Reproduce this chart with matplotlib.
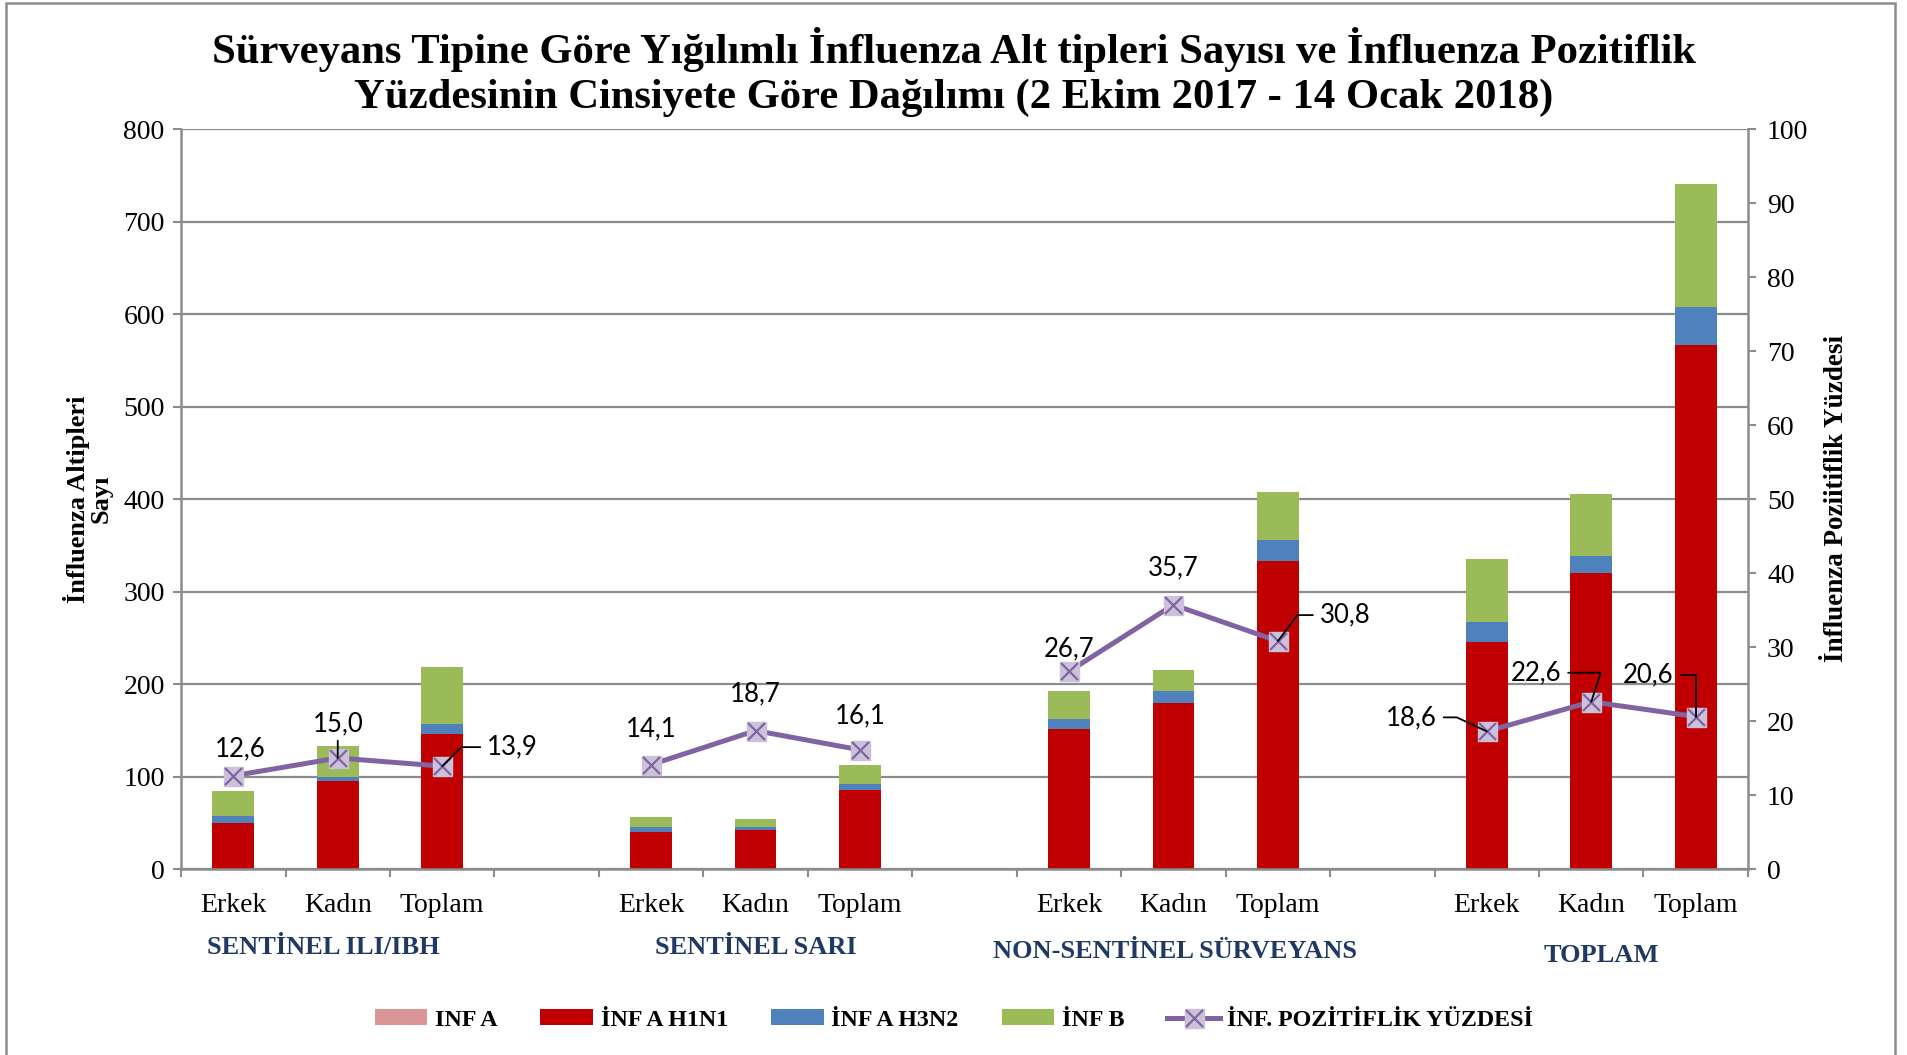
import matplotlib
matplotlib.use("Agg")
import matplotlib.pyplot as plt
import numpy as np
from matplotlib.patches import Rectangle

# data
groups = ["SENTİNEL ILI/IBH", "SENTİNEL SARI", "NON-SENTİNEL SÜRVEYANS", "TOPLAM"]
sexes = ["Erkek", "Kadın", "Toplam"]

inf_a = [0, 0, 0, 0, 0, 0, 0, 0, 0, 0, 0, 0]
inf_a_h1n1 = [50, 95, 146, 40, 42, 85, 151, 180, 333, 245, 320, 566]
inf_a_h3n2 = [7, 4, 11, 5, 3, 7, 11, 12, 23, 22, 18, 42]
inf_b = [27, 34, 61, 11, 9, 20, 30, 23, 52, 68, 67, 133]
pozitiflik = [12.6, 15.0, 13.9, 14.1, 18.7, 16.1, 26.7, 35.7, 30.8, 18.6, 22.6, 20.6]

SERIF = "Liberation Serif"
GRID = "#8c8c8c"
C_A = "#D99694"
C_H1 = "#C00000"
C_H3 = "#4F81BD"
C_B = "#9BBB59"
C_LINE = "#8064A2"
C_MARK = "#CCC1DA"

PX = 0.72  # px -> pt at dpi 100

fig = plt.figure(figsize=(19.08, 10.55), dpi=100)
ax = fig.add_axes([0.0949, 0.1763, 0.9161 - 0.0949, 0.8777 - 0.1763])
ax2 = ax.twinx()

# x slots: 3 bars per group, one empty slot between groups
x = np.array([g * 4 + i for g in range(len(groups)) for i in range(len(sexes))])
w = 0.4

a = np.array(inf_a)
h1 = np.array(inf_a_h1n1)
h3 = np.array(inf_a_h3n2)
b = np.array(inf_b)
p = np.array(pozitiflik)

bar_a = ax.bar(x, a, w, color=C_A, zorder=2)
bar_h1 = ax.bar(x, h1, w, bottom=a, color=C_H1, zorder=2)
bar_h3 = ax.bar(x, h3, w, bottom=a + h1, color=C_H3, zorder=2)
bar_b = ax.bar(x, b, w, bottom=a + h1 + h3, color=C_B, zorder=2)

ax.set_xlim(-0.5, 14.5)
ax.set_ylim(0, 800)
ax.set_yticks(np.arange(0, 801, 100))
ax.yaxis.grid(True, color=GRID, lw=1.6)
ax.set_axisbelow(True)
ax.tick_params(axis="y", length=8 * PX, width=1.5, color=GRID, labelsize=20, pad=6)
for lab in ax.get_yticklabels():
    lab.set_fontfamily(SERIF)

ax.set_xticks(x)
ax.set_xticklabels(sexes * len(groups), fontfamily=SERIF, fontsize=20)
ax.tick_params(axis="x", which="major", length=0, pad=17)
ax.set_xticks(np.arange(-0.5, 14.6, 1), minor=True)
ax.tick_params(axis="x", which="minor", length=8 * PX, width=1.5, color=GRID)

for s in ["top", "right"]:
    ax.spines[s].set_visible(False)
for s in ["left", "bottom"]:
    ax.spines[s].set_color(GRID)
    ax.spines[s].set_linewidth(1.8)
for s in ["top", "left", "bottom"]:
    ax2.spines[s].set_visible(False)
ax2.spines["right"].set_color(GRID)
ax2.spines["right"].set_linewidth(1.8)

ax2.set_ylim(0, 100)
ax2.set_yticks(np.arange(0, 101, 10))
ax2.tick_params(axis="y", length=8 * PX, width=1.5, color=GRID, labelsize=20, pad=8)
for lab in ax2.get_yticklabels():
    lab.set_fontfamily(SERIF)

# the line is broken between groups
for g in range(len(groups)):
    sl = slice(g * 3, g * 3 + 3)
    line, = ax2.plot(x[sl], p[sl], color=C_LINE, lw=5 * PX, marker="s", ms=19 * PX,
                     mfc=C_MARK, mec=C_MARK, zorder=3)
    xm, = ax2.plot(x[sl], p[sl], ls="none", marker="x", ms=17 * PX, mew=1.6,
                   color=C_LINE, zorder=4)

# value labels: (dx px, dy px, ha, leader angle or None)
label_pos = [
    (7, 27, "center", None),
    (0, 34, "center", "v"),
    (45, 19, "left", 45),
    (0, 36, "center", None),
    (0, 37, "center", None),
    (0, 34, "center", None),
    (0, 23, "center", None),
    (0, 37, "center", None),
    (42, 26, "left", 53),
    (-50, 14, "right", 155),
    (-30, 29, "right", 72),
    (-22, 42, "right", 90),
]
for xi, yi, (dx, dy, ha, lead) in zip(x, pozitiflik, label_pos):
    txt = f"{yi:.1f}".replace(".", ",")
    kw = dict(xy=(xi, yi), xytext=(dx * PX, dy * PX), textcoords="offset points",
              ha=ha, va="center", fontsize=18.5, fontfamily="Lato", zorder=6)
    if lead is None:
        ax2.annotate(txt, **kw)
    elif lead == "v":
        ax2.annotate(txt, arrowprops=dict(arrowstyle="-", color="black", lw=1.3,
                                          shrinkA=1, shrinkB=0, relpos=(0.5, 0.0)), **kw)
    else:
        rel = (0.0, 0.5) if ha == "left" else (1.0, 0.5)
        ax2.annotate(txt, arrowprops=dict(arrowstyle="-", color="black", lw=1.3,
                                          shrinkA=3, shrinkB=0, relpos=rel,
                                          connectionstyle=f"angle,angleA=0,angleB={lead},rad=0"),
                     **kw)

# group names under the category labels
grp_dx = [-0.14, 0.0, 0.02, 0.1]
grp_y = [948, 948, 952, 956]
for g, name in enumerate(groups):
    xc = g * 4 + 1 + grp_dx[g]
    xf = ax.transData.transform((xc, 0))[0] / fig.bbox.width
    fig.text(xf, 1 - grp_y[g] / 1055, name, ha="center", va="center",
             fontfamily=SERIF, fontweight="bold", fontsize=19, color="#1F3864")

# titles and axis labels
fig.text(0.5, 1 - 50 / 1055, "Sürveyans Tipine Göre Yığılımlı İnfluenza Alt tipleri Sayısı ve İnfluenza Pozitiflik",
         ha="center", va="center", fontfamily=SERIF, fontweight="bold", fontsize=30.7)
fig.text(0.5, 1 - 98 / 1055, "Yüzdesinin Cinsiyete Göre Dağılımı (2 Ekim 2017 - 14 Ocak 2018)",
         ha="center", va="center", fontfamily=SERIF, fontweight="bold", fontsize=30.7)
fig.text(88 / 1908, 1 - 499 / 1055, "İnfluenza Altipleri\nSayı", rotation=90, ha="center",
         va="center", fontfamily=SERIF, fontweight="bold", fontsize=19, linespacing=1.0)
fig.text(1837 / 1908, 1 - 499 / 1055, "İnfluenza Poziitiflik Yüzdesi", rotation=90,
         ha="center", va="center", fontfamily=SERIF, fontweight="bold", fontsize=19.5)

# legend
leg = fig.legend([bar_a, bar_h1, bar_h3, bar_b, (line, xm)],
                 ["INF A", "İNF A H1N1", "İNF A H3N2", "İNF B", "İNF. POZİTİFLİK YÜZDESİ"],
                 loc="center", bbox_to_anchor=(0.5, 1 - 1020 / 1055), ncol=5, frameon=False,
                 prop=dict(family=SERIF, weight="bold", size=17.3),
                 handlelength=2.2, handleheight=0.65, handletextpad=0.3, columnspacing=1.8)

# chart border
fig.patches.append(Rectangle((6 / 1908, -0.05), 1889 / 1908, 1.05 - 3 / 1055,
                             transform=fig.transFigure, fill=False, ec=GRID, lw=1.8))

fig.savefig("out.png", dpi=100)
